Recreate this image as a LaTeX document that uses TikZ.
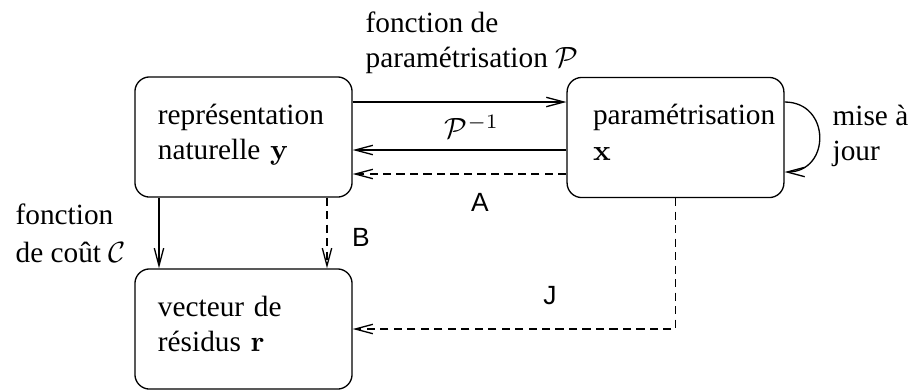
\documentclass[tikz,border=0pt]{standalone}
\usepackage{amsmath}
\usepackage[no-math]{fontspec}
\setmainfont{Liberation Serif}
\newfontfamily\lblfont{Liberation Sans}
\usetikzlibrary{arrows.meta,calc,positioning}

\begin{document}
\begin{tikzpicture}[x=0.3413pt,y=-0.3413pt,
  >={Straight Barb[length=6pt,width=3.2pt]},
  every path/.style={line width=0.45pt},
  dashed/.style={dash pattern=on 2.8pt off 1.8pt},
  box/.style={draw,rounded corners=5pt,minimum width=74pt,minimum height=41pt,
    text width=58.4pt,align=left,inner xsep=7.85pt,inner ysep=0pt},
  lbl/.style={font=\lblfont\small,inner sep=0pt},
  txt/.style={anchor=west,align=left,inner sep=0pt}]
\useasboundingbox (0,0) rectangle (908,390);
% boxes
\node[box] (rep) at (243.5,137) {représentation\\naturelle $\mathbf{y}$\strut};
\node[box,text width=56.3pt,inner xsep=8.5pt] (par) at (675.5,137.5) {paramétrisation\\$\mathbf{x}$\strut};
\node[box] (vec) at (243.5,329) {vecteur de\\résidus $\mathbf{r}$\strut};
% connectors
\draw[->] (rep.east |- 0,102) -- (par.west |- 0,102);
\draw[->] (par.west |- 0,150) -- (rep.east |- 0,150);
\draw[->,dashed] (par.west |- 0,174) -- (rep.east |- 0,174);
\draw[->] (rep.south -| 159,0) -- (vec.north -| 159,0);
\draw[->,dashed] (rep.south -| 327,0) -- (vec.north -| 327,0);
\draw[->,dashed] (par.south) |- (vec.east |- 0,329);
\draw[->] (par.east |- 0,102) .. controls (831,102) and (831,172) .. (par.east |- 0,172);
% labels
\node[txt] (fparam) at (365,43) {fonction de\\paramétrisation $\mathcal{P}$};
\node[txt] (fcout) at (15,233) {fonction\\[1pt]de coût $\mathcal{C}$};
\node[txt] (maj) at (832,136) {mise à\\jour};
\node (pinv) at (472,127) {$\mathcal{P}^{-1}$};
\node[lbl] (lA) at (480,202) {A};
\node[lbl] (lB) at (361,237) {B};
\node[lbl] (lJ) at (550,296) {J};
\end{tikzpicture}
\end{document}
